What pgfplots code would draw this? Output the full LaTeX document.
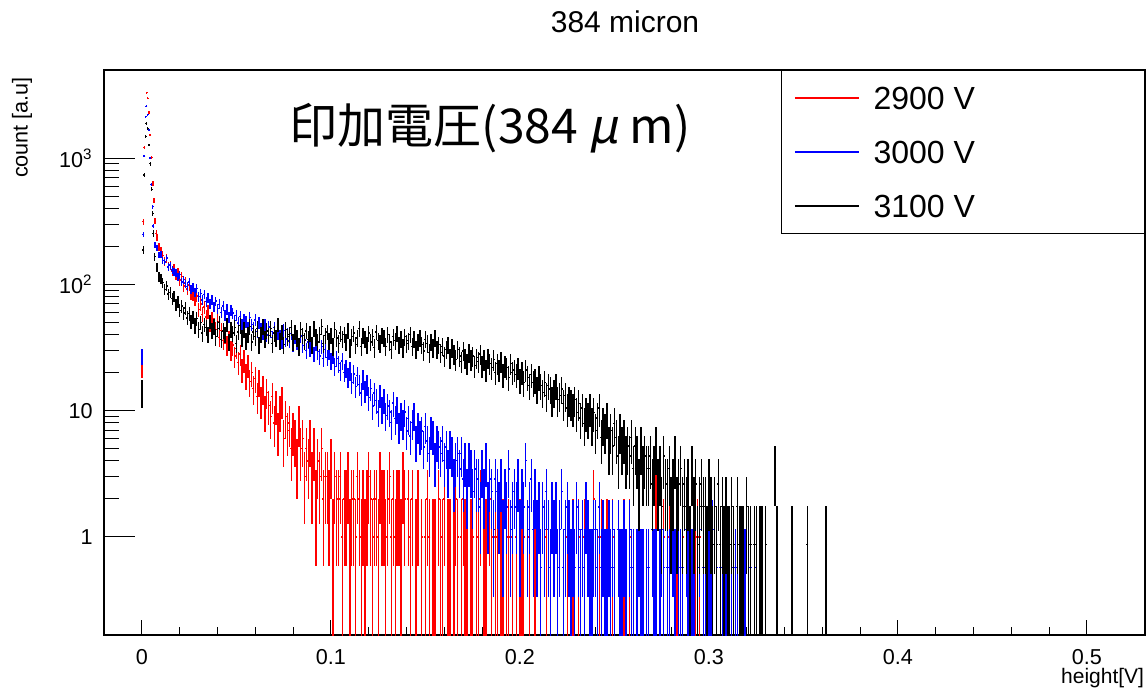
\documentclass[border=0pt]{standalone}
\usepackage{pgfplots}
\usepackage{pgfplotstable}
\pgfplotsset{compat=1.18}
\usepackage{fontspec}
\setmainfont{Liberation Sans}
\newfontfamily\jp{Noto Sans CJK JP}
\newfontfamily\jpsl[FakeSlant=0.2]{Noto Sans CJK JP}

% peak region (explicit bin centres)
\pgfplotstableread[row sep=\\]{
x n\\
0.0000 23\\ 0.0007 313\\ 0.0012 1217\\ 0.0025 3300\\ 0.0030 2970\\ 0.0037 2300\\ 0.0044 1520\\ 0.0051 1015\\ 0.0058 630\\ 0.0063 460\\ 0.0069 318\\ 0.0076 254\\
}\redpeak
\pgfplotstableread[row sep=\\]{
x n\\
0.0000 47\\ 0.0007 431\\ 0.0012 1809\\ 0.0020 3704\\ 0.0023 4470\\ 0.0030 3826\\ 0.0037 2904\\ 0.0044 1740\\ 0.0050 1078\\ 0.0057 717\\ 0.0060 504\\ 0.0069 357\\
}\bluepeak
\pgfplotstableread[row sep=\\]{
x n\\
0.0000 16\\ 0.0007 214\\ 0.0012 840\\ 0.0020 1691\\ 0.0023 2149\\ 0.0030 1966\\ 0.0037 1451\\ 0.0044 1029\\ 0.0051 647\\ 0.0057 417\\ 0.0060 290\\ 0.0067 190\\
}\blackpeak

% counts per 0.001 V bin, first bin centred at 0.008 V
\pgfplotstableread[row sep=\\]{
n\\
236\\ 198\\ 183\\ 170\\ 152\\ 161\\ 139\\ 142\\ 128\\ 133\\
119\\ 124\\ 108\\ 115\\ 97\\ 104\\ 92\\ 99\\ 85\\ 83\\
76\\ 81\\ 63\\ 70\\ 58\\ 66\\ 55\\ 61\\ 49\\ 53\\
47\\ 44\\ 51\\ 38\\ 43\\ 36\\ 40\\ 33\\ 37\\ 30\\
33\\ 27\\ 31\\ 24\\ 28\\ 21\\ 25\\ 19\\ 23\\ 17\\
20\\ 15\\ 18\\ 13\\ 17\\ 12\\ 15\\ 10\\ 14\\ 11\\
9\\ 13\\ 8\\ 11\\ 7\\ 10\\ 12\\ 6\\ 9\\ 7\\
8\\ 5\\ 7\\ 6\\ 4\\ 8\\ 5\\ 6\\ 3\\ 5\\
4\\ 6\\ 3\\ 5\\ 2\\ 4\\ 3\\ 5\\ 2\\ 3\\
3\\ 2\\ 4\\ 1\\ 3\\ 2\\ 2\\ 3\\ 1\\ 2\\
2\\ 3\\ 1\\ 2\\ 2\\ 1\\ 3\\ 2\\ 1\\ 2\\
1\\ 2\\ 3\\ 2\\ 1\\ 2\\ 2\\ 1\\ 3\\ 2\\
2\\ 1\\ 2\\ 3\\ 1\\ 2\\ 1\\ 2\\ 2\\ 1\\
3\\ 2\\ 0\\ 2\\ 1\\ 2\\ 0\\ 1\\ 2\\ 0\\
1\\ 0\\ 1\\ 2\\ 1\\ 0\\ 1\\ 1\\ 0\\ 2\\
1\\ 1\\ 2\\ 0\\ 1\\ 1\\ 0\\ 1\\ 2\\ 1\\
0\\ 1\\ 2\\ 1\\ 1\\ 0\\ 1\\ 1\\ 0\\ 1\\
1\\ 2\\ 0\\ 1\\ 1\\ 0\\ 2\\ 1\\ 0\\ 1\\
1\\ 0\\ 1\\ 1\\ 0\\ 1\\ 1\\ 0\\ 1\\ 0\\
1\\ 0\\ 1\\ 1\\ 1\\ 0\\ 0\\ 1\\ 0\\ 0\\
1\\ 0\\ 0\\ 0\\ 0\\ 0\\ 1\\ 0\\ 0\\ 0\\
0\\ 0\\ 0\\ 0\\ 0\\ 0\\ 0\\ 1\\ 0\\ 0\\
1\\ 0\\ 0\\ 1\\ 0\\ 0\\ 1\\ 0\\ 0\\ 0\\
0\\ 2\\ 0\\ 0\\ 1\\ 1\\ 0\\ 0\\ 1\\ 0\\
0\\ 1\\ 0\\ 0\\ 0\\ 0\\ 0\\ 1\\ 0\\ 0\\
1\\ 0\\ 0\\ 0\\ 0\\ 0\\ 0\\ 0\\ 0\\ 0\\
0\\ 0\\ 0\\ 0\\ 2\\ 0\\ 0\\ 0\\ 1\\ 0\\
0\\ 1\\ 0\\ 0\\ 0\\ 1\\ 0\\ 0\\ 1\\ 0\\
0\\ 0\\ 0\\ 0\\ 1\\ 1\\ 1\\ 1\\
}\redtab

\pgfplotstableread[row sep=\\]{
n\\
338\\ 296\\ 301\\ 270\\ 262\\ 281\\ 239\\ 247\\ 226\\ 219\\
214\\ 198\\ 207\\ 181\\ 190\\ 176\\ 168\\ 181\\ 158\\ 164\\
150\\ 161\\ 139\\ 148\\ 131\\ 144\\ 127\\ 136\\ 122\\ 131\\
116\\ 128\\ 112\\ 121\\ 104\\ 117\\ 99\\ 110\\ 95\\ 108\\
103\\ 90\\ 99\\ 86\\ 97\\ 83\\ 92\\ 88\\ 79\\ 95\\
84\\ 78\\ 91\\ 74\\ 86\\ 77\\ 71\\ 83\\ 69\\ 80\\
74\\ 66\\ 79\\ 63\\ 72\\ 68\\ 61\\ 75\\ 64\\ 70\\
62\\ 71\\ 58\\ 67\\ 60\\ 55\\ 68\\ 57\\ 63\\ 52\\
61\\ 54\\ 58\\ 49\\ 59\\ 51\\ 47\\ 56\\ 45\\ 53\\
46\\ 51\\ 43\\ 48\\ 39\\ 45\\ 41\\ 36\\ 43\\ 35\\
38\\ 32\\ 36\\ 29\\ 34\\ 27\\ 33\\ 28\\ 24\\ 31\\
25\\ 28\\ 22\\ 26\\ 19\\ 24\\ 21\\ 17\\ 23\\ 18\\
21\\ 16\\ 19\\ 17\\ 14\\ 20\\ 15\\ 18\\ 13\\ 16\\
14\\ 17\\ 12\\ 15\\ 11\\ 14\\ 16\\ 10\\ 13\\ 11\\
12\\ 9\\ 13\\ 10\\ 8\\ 12\\ 11\\ 7\\ 10\\ 9\\
8\\ 10\\ 7\\ 9\\ 6\\ 9\\ 8\\ 5\\ 7\\ 8\\
6\\ 8\\ 5\\ 7\\ 4\\ 7\\ 6\\ 4\\ 6\\ 5\\
5\\ 3\\ 6\\ 4\\ 7\\ 3\\ 5\\ 4\\ 2\\ 5\\
4\\ 3\\ 5\\ 2\\ 4\\ 3\\ 6\\ 2\\ 3\\ 4\\
3\\ 5\\ 2\\ 4\\ 3\\ 7\\ 2\\ 3\\ 5\\ 2\\
4\\ 2\\ 3\\ 1\\ 3\\ 2\\ 4\\ 2\\ 1\\ 3\\
2\\ 3\\ 1\\ 2\\ 4\\ 1\\ 2\\ 3\\ 2\\ 1\\
2\\ 1\\ 3\\ 2\\ 1\\ 2\\ 1\\ 3\\ 2\\ 1\\
1\\ 2\\ 2\\ 1\\ 3\\ 1\\ 2\\ 1\\ 1\\ 2\\
1\\ 2\\ 1\\ 0\\ 2\\ 1\\ 1\\ 2\\ 1\\ 0\\
2\\ 1\\ 1\\ 0\\ 1\\ 2\\ 1\\ 1\\ 0\\ 1\\
1\\ 0\\ 2\\ 1\\ 1\\ 0\\ 1\\ 2\\ 1\\ 0\\
1\\ 1\\ 0\\ 2\\ 1\\ 0\\ 1\\ 1\\ 1\\ 0\\
2\\ 1\\ 0\\ 1\\ 1\\ 0\\ 1\\ 2\\ 0\\ 1\\
1\\ 0\\ 1\\ 1\\ 2\\ 0\\ 1\\ 0\\ 1\\ 1\\
0\\ 1\\ 1\\ 0\\ 1\\ 0\\ 1\\ 1\\ 0\\ 1\\
0\\ 1\\ 0\\ 1\\ 1\\ 0\\ 0\\ 1\\ 0\\ 1\\ 1\\
}\bluetab

\pgfplotstableread[row sep=\\]{
n\\
155\\ 131\\ 127\\ 118\\ 104\\ 111\\ 96\\ 99\\ 88\\ 92\\
79\\ 84\\ 71\\ 77\\ 68\\ 74\\ 62\\ 67\\ 58\\ 63\\
54\\ 61\\ 50\\ 57\\ 47\\ 55\\ 52\\ 46\\ 58\\ 49\\
53\\ 44\\ 51\\ 57\\ 42\\ 49\\ 46\\ 55\\ 40\\ 50\\
47\\ 52\\ 39\\ 48\\ 54\\ 43\\ 50\\ 41\\ 46\\ 53\\
40\\ 48\\ 44\\ 51\\ 38\\ 46\\ 53\\ 42\\ 49\\ 45\\
51\\ 39\\ 47\\ 43\\ 55\\ 41\\ 48\\ 38\\ 50\\ 44\\
46\\ 52\\ 40\\ 48\\ 43\\ 37\\ 50\\ 45\\ 41\\ 49\\
42\\ 47\\ 38\\ 51\\ 44\\ 40\\ 46\\ 53\\ 39\\ 45\\
48\\ 41\\ 45\\ 37\\ 50\\ 43\\ 39\\ 47\\ 42\\ 46\\
40\\ 49\\ 36\\ 44\\ 47\\ 38\\ 43\\ 51\\ 37\\ 45\\
42\\ 38\\ 47\\ 40\\ 44\\ 36\\ 48\\ 41\\ 39\\ 45\\
43\\ 37\\ 46\\ 40\\ 35\\ 44\\ 41\\ 47\\ 38\\ 42\\
36\\ 44\\ 39\\ 41\\ 46\\ 37\\ 42\\ 35\\ 40\\ 43\\
38\\ 34\\ 42\\ 39\\ 33\\ 40\\ 36\\ 43\\ 35\\ 38\\
33\\ 37\\ 31\\ 35\\ 38\\ 30\\ 36\\ 32\\ 29\\ 35\\
31\\ 28\\ 34\\ 30\\ 27\\ 33\\ 29\\ 31\\ 26\\ 30\\
28\\ 32\\ 26\\ 29\\ 24\\ 30\\ 27\\ 25\\ 29\\ 23\\
27\\ 24\\ 28\\ 22\\ 26\\ 25\\ 21\\ 27\\ 23\\ 24\\
22\\ 25\\ 20\\ 23\\ 19\\ 24\\ 21\\ 18\\ 22\\ 19\\
20\\ 17\\ 21\\ 18\\ 16\\ 19\\ 15\\ 18\\ 17\\ 14\\
16\\ 18\\ 14\\ 15\\ 17\\ 13\\ 15\\ 12\\ 14\\ 13\\
12\\ 14\\ 11\\ 13\\ 10\\ 12\\ 9\\ 11\\ 10\\ 12\\
9\\ 11\\ 8\\ 10\\ 12\\ 7\\ 9\\ 8\\ 10\\ 6\\
8\\ 6\\ 9\\ 7\\ 5\\ 8\\ 6\\ 7\\ 5\\ 6\\
5\\ 7\\ 4\\ 6\\ 5\\ 3\\ 6\\ 4\\ 5\\ 4\\
4\\ 5\\ 3\\ 4\\ 6\\ 3\\ 4\\ 2\\ 5\\ 3\\
3\\ 4\\ 2\\ 3\\ 5\\ 2\\ 3\\ 4\\ 2\\ 3\\
2\\ 3\\ 1\\ 4\\ 2\\ 3\\ 1\\ 2\\ 3\\ 2\\
2\\ 1\\ 3\\ 2\\ 1\\ 2\\ 1\\ 3\\ 1\\ 2\\
1\\ 2\\ 1\\ 1\\ 2\\ 1\\ 0\\ 2\\ 1\\ 1\\
1\\ 0\\ 2\\ 1\\ 1\\ 0\\ 1\\ 1\\ 0\\ 1\\
1\\ 0\\ 1\\ 0\\ 0\\ 0\\ 0\\ 4\\ 1\\ 0\\
0\\ 0\\ 0\\ 0\\ 0\\ 0\\ 1\\ 0\\ 0\\ 0\\
0\\ 0\\ 0\\ 0\\ 1\\ 0\\ 0\\ 0\\ 0\\ 0\\
0\\ 0\\ 0\\ 0\\ 1\\
}\blacktab

\pgfplotsset{
  histo/.style={only marks, mark=-, mark size=0.5bp, mark options={line width=0.7bp},
    error bars/y dir=both, error bars/y explicit, error bars/error mark=none,
    error bars/error bar style={#1, line width=0.7bp}},
}

\begin{document}
\begin{tikzpicture}
\path[use as bounding box] (-52bp,-26.5bp) rectangle (521.5bp,317.5bp);
\begin{axis}[
  scale only axis, width=520.5bp, height=282.5bp,
  at={(0,0)}, anchor=south west,
  xmin=-0.0201, xmax=0.5307,
  ymode=log, ymin=0.1675, ymax=4977,
  xtick={0,0.1,0.2,0.3,0.4,0.5}, xticklabels={0,0.1,0.2,0.3,0.4,0.5},
  minor x tick num=4,
  ytick={1,10,100,1000}, yticklabels={1,10,10\textsuperscript{2},10\textsuperscript{3}},
  xtick pos=left, ytick pos=left,
  tick align=inside,
  axis line style={line width=0.6bp},
  every tick/.style={black, line width=0.5bp},
  xtick style={/pgfplots/major tick length=7.5bp, /pgfplots/minor tick length=3.8bp},
  ytick style={/pgfplots/major tick length=15.5bp, /pgfplots/minor tick length=7.5bp},
  tick label style={font=\fontsize{10.8bp}{13bp}\selectfont},
  yticklabel style={inner sep=0pt, xshift=-5.5bp},
  xticklabel style={inner sep=0pt, yshift=-7bp},
  clip mode=individual,
  legend cell align=left,
  legend style={at={(1,1)}, anchor=north east, draw=black, line width=0.5bp,
    inner xsep=6.5bp, inner ysep=0.3bp, row sep=0pt,
    font=\fontsize{16bp}{19bp}\selectfont,
    nodes={inner sep=0pt, text height=11.5bp, text depth=0pt, minimum height=27bp}},
  legend image code/.code={\draw[#1, line width=0.6bp] (0bp,0bp) -- (32bp,0bp);},
]
% 2900 V
\addplot[red, histo=red]
  table[x index=0, y index=0, x expr=0.008+0.001*\coordindex, y expr=\thisrow{n},
    restrict expr to domain={\thisrow{n}}{0.5:100000},
    y error plus expr={sqrt(\thisrow{n})},
    y error minus expr={min(sqrt(\thisrow{n}),0.95*\thisrow{n})}] {\redtab};
\addlegendentry{\makebox[136bp][l]{\hspace{7bp}2900 V}}
% 3000 V
\addplot[blue, histo=blue]
  table[x index=0, y index=0, x expr=0.008+0.001*\coordindex, y expr=0.575*\thisrow{n},
    restrict expr to domain={\thisrow{n}}{0.5:100000},
    y error plus expr={0.575*sqrt(\thisrow{n})},
    y error minus expr={0.575*min(sqrt(\thisrow{n}),0.95*\thisrow{n})}] {\bluetab};
\addlegendentry{\makebox[136bp][l]{\hspace{7bp}3000 V}}
% 3100 V
\addplot[black, histo=black]
  table[x index=0, y index=0, x expr=0.008+0.001*\coordindex, y expr=0.875*\thisrow{n},
    restrict expr to domain={\thisrow{n}}{0.5:100000},
    y error plus expr={0.875*sqrt(\thisrow{n})},
    y error minus expr={0.875*min(sqrt(\thisrow{n}),0.95*\thisrow{n})}] {\blacktab};
\addlegendentry{\makebox[136bp][l]{\hspace{7bp}3100 V}}
% peaks
\addplot[forget plot, red, histo=red]
  table[x=x, y expr=\thisrow{n},
    y error plus expr={sqrt(\thisrow{n})},
    y error minus expr={sqrt(\thisrow{n})}] {\redpeak};
\addplot[forget plot, blue, histo=blue]
  table[x=x, y expr=0.575*\thisrow{n},
    y error plus expr={0.575*sqrt(\thisrow{n})},
    y error minus expr={0.575*sqrt(\thisrow{n})}] {\bluepeak};
\addplot[forget plot, black, histo=black]
  table[x=x, y expr=0.875*\thisrow{n},
    y error plus expr={0.875*sqrt(\thisrow{n})},
    y error minus expr={0.875*sqrt(\thisrow{n})}] {\blackpeak};
\node[anchor=center, font=\fontsize{24bp}{28bp}\selectfont] at (rel axis cs:0.371,0.897)
  {\jp 印加電圧(384 {\jpsl μ} m)};
\node[anchor=base, font=\fontsize{15bp}{18bp}\selectfont] at (rel axis cs:0.5005,1.0655) {384 micron};
\node[anchor=base east, inner sep=0pt, font=\fontsize{10.5bp}{13bp}\selectfont] at (rel axis cs:0.9995,-0.0865) {height[V]};
\node[anchor=east, rotate=90, font=\fontsize{10.8bp}{13bp}\selectfont] at (rel axis cs:-0.0788,1) {count [a.u]};
\end{axis}
\end{tikzpicture}
\end{document}
